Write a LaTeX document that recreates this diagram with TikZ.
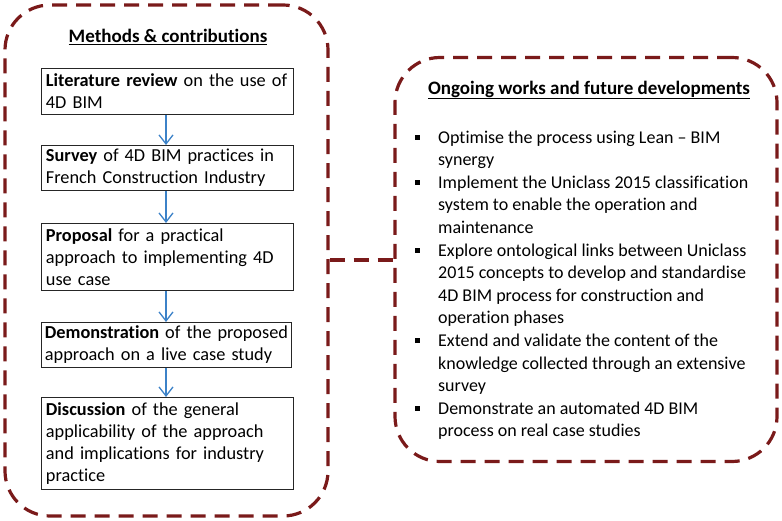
\documentclass[tikz,border=0pt]{standalone}
\usepackage{fontspec}
\setmainfont{Carlito}[Ligatures=NoCommon]
\usetikzlibrary{arrows.meta}
\definecolor{dred}{HTML}{7A1A1A}
\definecolor{ablue}{HTML}{3C82C8}
\newcommand{\bul}{\llap{\rule[3.5pt]{5pt}{5pt}\hspace{18.5pt}}}
\newcommand{\myboxfont}{\fontsize{18.3}{22}\selectfont\hyphenpenalty=10000 }
\tikzset{
  x=1pt, y=1pt,
  frame/.style={draw=dred, line width=3.2pt, dash pattern=on 15pt off 9pt, rounded corners=45pt},
  stepbox/.style={draw=black!85, line width=0.9pt, anchor=north west, align=left,
    inner xsep=4.5pt, inner ysep=2pt, font=\myboxfont},
  flow/.style={draw=ablue, line width=1.3pt, -{Straight Barb[length=9pt,width=14pt,line width=1.3pt]}},
  ttl/.style={font=\fontsize{19}{22}\selectfont\bfseries, inner sep=0pt}
}
\begin{document}
\begin{tikzpicture}
\useasboundingbox (0,0) rectangle (782,-521);
\node[frame, minimum width=323pt, minimum height=511pt, inner sep=0pt] (L) at (166.5,-260.5) {};
\node[frame, minimum width=382pt, minimum height=404pt, inner sep=0pt] (R) at (586,-259.5) {};
\draw[draw=dred, line width=3.2pt, dash pattern=on 15pt off 9pt] (L.east |- 0,-260) coordinate (c1) -- (R.west |- c1);

\node[ttl] (t1) at (168,-37) {\underline{Methods \& contributions}};
\node[ttl] (t2) at (589,-90) {\underline{Ongoing works and future developments}};

\node[stepbox, text width=243pt, minimum height=46pt] (b1) at (41,-68) {\textbf{Literature review} on the use of\\4D BIM};
\node[stepbox, text width=243pt, minimum height=45pt] (b2) at (41,-145) {\textbf{Survey} of 4D BIM practices in\\French Construction Industry};
\node[stepbox, text width=243pt, minimum height=67pt] (b3) at (41,-223) {\textbf{Proposal} for a practical\\approach to implementing 4D\\use case};
\node[stepbox, text width=243pt, inner xsep=3.5pt, minimum height=45pt] (b4) at (41,-322) {\mbox{\textbf{Demonstration} of the proposed}\\approach on a live case study};
\node[stepbox, text width=243pt, minimum height=92pt] (b5) at (41,-397) {\textbf{Discussion} of the general\\applicability of the approach\\and implications for industry\\practice};

\draw[flow] (b1.south -| 166,0) -- (b2.north -| 166,0);
\draw[flow] (b2.south -| 166,0) -- (b3.north -| 166,0);
\draw[flow] (b3.south -| 166,0) -- (b4.north -| 166,0);
\draw[flow] (b4.south -| 166,0) -- (b5.north -| 166,0);

\node[anchor=north west, align=left, inner sep=0pt, font=\fontsize{18}{22.6}\selectfont] (list) at (438,-130.5) {%
\bul Optimise the process using Lean -- BIM\\
synergy\\
\bul Implement the Uniclass 2015 classification\\
system to enable the operation and\\
maintenance\\
\bul Explore ontological links between Uniclass\\
2015 concepts to develop and standardise\\
4D BIM process for construction and\\
operation phases\\
\bul Extend and validate the content of the\\
knowledge collected through an extensive\\
survey\\
\bul Demonstrate an automated 4D BIM\\
process on real case studies};
\end{tikzpicture}
\end{document}
